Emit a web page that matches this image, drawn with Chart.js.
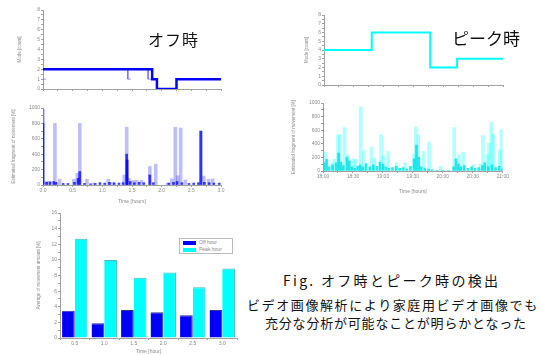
<!DOCTYPE html>
<html>
<head>
<meta charset="utf-8">
<script src="https://cdn.jsdelivr.net/npm/chart.js@4/dist/chart.umd.min.js"></script>
<style>
body { margin: 0; background: #fff; width: 540px; height: 355px; overflow: hidden; position: relative; }
.box { position: absolute; }
canvas { display: block; }
.jp { position: absolute; font-family: "Noto Sans CJK JP", sans-serif; color: #111; white-space: nowrap; line-height: 1; }
.legend { position: absolute; left: 179px; top: 238px; width: 52px; height: 14px; border: 1px solid #bbb; background: #fff;
  font-family: "Liberation Sans", sans-serif; font-size: 5px; color: #888; }
.legend div { height: 7px; line-height: 7px; padding-left: 3px; }
.legend span { display: inline-block; width: 13px; height: 4px; margin-right: 3px; vertical-align: middle; }
</style>
</head>
<body>
<div class="box" style="left:0;top:0"><canvas id="offMode" width="230" height="95"></canvas></div>
<div class="box" style="left:0;top:95px"><canvas id="offMove" width="230" height="110"></canvas></div>
<div class="box" style="left:280px;top:0"><canvas id="peakMode" width="230" height="95"></canvas></div>
<div class="box" style="left:280px;top:95px"><canvas id="peakMove" width="230" height="100"></canvas></div>
<div class="box" style="left:0;top:205px"><canvas id="average" width="245" height="150"></canvas></div>

<div class="legend">
  <div><span style="background:#0000ff"></span>Off hour</div>
  <div><span style="background:#00ffff"></span>Peak hour</div>
</div>

<div class="jp" style="left:148px;top:31px;font-size:16px;letter-spacing:1px">オフ時</div>
<div class="jp" style="left:452px;top:29px;font-size:17px">ピーク時</div>
<div class="jp" style="left:283px;top:273px;font-size:14px;letter-spacing:2.3px">Fig. オフ時とピーク時の検出</div>
<div class="jp" style="left:247px;top:298px;font-size:13px;letter-spacing:1.6px">ビデオ画像解析により家庭用ビデオ画像でも</div>
<div class="jp" style="left:265px;top:316px;font-size:13px;letter-spacing:0.8px">充分な分析が可能なことが明らかとなった</div>

<script>
// ---- data ----
// off hour: mode count (step line)
const offModeT = [0, 1.84, 1.92, 2.25, 3.0];
const offModeV = [2, 1, 0, 1, 1];
const offBlipT = [0, 1.43, 1.77];

// off hour: estimated movement (bars)
const offPeakT = [0.00, 0.05, 0.10, 0.20, 0.28, 0.52, 0.58, 0.62, 0.74, 0.85, 1.10, 1.16, 1.37, 1.41, 1.45, 1.52, 1.58, 1.66, 1.80, 1.90, 2.10, 2.17, 2.23, 2.27, 2.32, 2.40, 2.66, 2.71, 2.79, 2.86];
const offPeakV = [980, 45, 45, 800, 75, 75, 150, 800, 75, 25, 75, 30, 130, 750, 85, 60, 60, 60, 240, 270, 25, 80, 750, 120, 740, 65, 700, 115, 75, 80];
const offBaseT = [0.00, 0.06, 0.12, 0.18, 0.22, 0.34, 0.42, 0.53, 0.59, 0.62, 0.70, 0.80, 0.88, 0.96, 1.04, 1.12, 1.20, 1.28, 1.35, 1.41, 1.42, 1.47, 1.54, 1.62, 1.70, 1.80, 1.86, 2.12, 2.20, 2.26, 2.34, 2.46, 2.54, 2.62, 2.66, 2.72, 2.80, 2.88, 2.97];
const offBaseV = [800, 35, 40, 45, 35, 20, 20, 35, 85, 175, 20, 15, 20, 30, 25, 35, 30, 25, 30, 400, 325, 45, 30, 35, 30, 130, 30, 25, 35, 45, 30, 20, 25, 30, 700, 35, 30, 25, 25];

// peak hour: mode count (step line)
const peakModeT = [0, 0.80, 1.78, 2.23, 3.0];
const peakModeV = [4, 6, 2, 3, 3];

// peak hour: estimated movement (bars)
const peakPeakT = [0.04, 0.14, 0.19, 0.25, 0.28, 0.36, 0.41, 0.50, 0.54, 0.63, 0.68, 0.81, 0.86, 0.97, 1.01, 1.09, 1.23, 1.37, 1.52, 1.55, 1.59, 1.68, 1.77, 1.96, 2.19, 2.27, 2.34, 2.51, 2.63, 2.67, 2.74, 2.77, 2.81, 2.84, 2.95, 2.98];
const peakPeakV = [280, 120, 170, 525, 535, 640, 240, 175, 175, 940, 300, 350, 190, 535, 215, 290, 120, 120, 250, 650, 525, 290, 425, 70, 640, 240, 280, 95, 100, 520, 240, 410, 720, 535, 310, 610];
const peakBaseT = [0.02, 0.06, 0.10, 0.16, 0.22, 0.26, 0.30, 0.34, 0.40, 0.44, 0.48, 0.53, 0.58, 0.62, 0.66, 0.72, 0.78, 0.84, 0.90, 0.95, 1.00, 1.05, 1.10, 1.16, 1.22, 1.28, 1.34, 1.40, 1.46, 1.52, 1.56, 1.60, 1.64, 1.70, 1.76, 1.82, 1.90, 2.00, 2.10, 2.18, 2.22, 2.26, 2.30, 2.36, 2.42, 2.48, 2.54, 2.60, 2.66, 2.70, 2.76, 2.82, 2.88, 2.94, 2.99];
const peakBaseV = [120, 170, 60, 90, 120, 265, 130, 80, 200, 150, 60, 40, 70, 90, 60, 110, 60, 90, 70, 130, 100, 60, 40, 50, 70, 40, 50, 30, 70, 180, 380, 200, 60, 40, 30, 20, 10, 10, 10, 60, 180, 100, 60, 80, 40, 60, 40, 50, 80, 120, 60, 90, 50, 70, 30];
const peakClock = ['18:00', '18:30', '19:00', '19:30', '20:00', '20:30', '21:00'];

// average movement per half hour
const hourLabels = ['0.5', '1.0', '1.5', '2.0', '2.5', '3.0'];
const offAverage = [3.5, 1.9, 3.6, 3.3, 2.9, 3.6];
const peakAverage = [12.7, 10.0, 7.7, 8.4, 6.5, 8.9];

// ---- styling helpers ----
const axisColor = '#a0a0a0';
const labelColor = '#8a8a8a';
const smallFont = { size: 5, family: 'Liberation Sans' };

function pts(ts, vs) {
    return ts.map((t, i) => ({ x: t, y: vs[i] }));
}

function every(step, fmt) {
    return v => (Math.abs(v / step - Math.round(v / step)) < 1e-6 ? fmt(v) : '');
}

function axisBase() {
    return {
        grid: { display: true, drawOnChartArea: false, drawTicks: true, tickLength: 2, color: axisColor },
        border: { display: true, color: axisColor },
        ticks: { font: smallFont, color: labelColor, padding: 1, autoSkip: false, maxRotation: 0 }
    };
}

function xTime(opts) {
    const ax = axisBase();
    ax.type = 'linear';
    ax.min = 0;
    ax.max = 3;
    ax.offset = false;
    ax.grid.offset = false;
    ax.ticks.stepSize = 0.25;
    ax.ticks.display = opts.labels !== false;
    ax.ticks.callback = opts.callback || every(0.5, v => v.toFixed(1));
    if (opts.title) {
        ax.title = { display: true, text: opts.title, font: smallFont, color: labelColor, padding: 0 };
    }
    ax.afterFit = s => { s.height = opts.height; };
    return ax;
}

function yValue(opts) {
    const ax = axisBase();
    ax.min = opts.min;
    ax.max = opts.max;
    ax.ticks.stepSize = opts.step;
    ax.ticks.callback = every(opts.labelStep, opts.fmt || (v => String(v)));
    ax.title = { display: true, text: opts.title, font: { size: 4.5, family: 'Liberation Sans' }, color: labelColor, padding: 0 };
    ax.afterFit = s => { s.width = opts.width; };
    return ax;
}

const common = {
    responsive: false,
    animation: false,
    devicePixelRatio: 1,
    plugins: { legend: { display: false }, tooltip: { enabled: false } }
};

// ---- off hour mode ----
const blips = [];
offBlipT.forEach(t => {
    blips.push({ x: t, y: t > 0 ? 2 : 1 }, { x: t, y: 1 }, { x: t + 0.05, y: 1 }, { x: t + 0.05, y: null });
});

new Chart(document.getElementById('offMode'), {
    type: 'line',
    data: {
        datasets: [
            { data: pts(offModeT, offModeV), stepped: true, borderColor: '#0000ff', borderWidth: 2.5, pointRadius: 0 },
            { data: blips, borderColor: 'rgba(80,80,255,0.6)', borderWidth: 1, pointRadius: 0, spanGaps: false }
        ]
    },
    options: Object.assign({}, common, {
        layout: { padding: { left: 17, right: 9, top: 10, bottom: 0 } },
        scales: {
            x: xTime({ labels: false, height: 6 }),
            y: yValue({ min: 0, max: 8, step: 0.5, labelStep: 1, title: 'Mode [count]', width: 26 })
        }
    })
});

// ---- off hour movement ----
new Chart(document.getElementById('offMove'), {
    type: 'bar',
    data: {
        datasets: [
            { data: pts(offBaseT, offBaseV), backgroundColor: 'rgba(0,0,255,0.75)', barThickness: 2 },
            { data: pts(offPeakT, offPeakV), backgroundColor: 'rgba(40,40,255,0.3)', barThickness: 3 }
        ]
    },
    options: Object.assign({}, common, {
        datasets: { bar: { grouped: false } },
        layout: { padding: { left: 11, right: 9, top: 13, bottom: 0 } },
        scales: {
            x: xTime({ title: 'Time [hours]', height: 20 }),
            y: yValue({ min: 0, max: 1000, step: 100, labelStep: 200, title: 'Estimated fragment of movement [%]', width: 32 })
        }
    })
});

// ---- peak hour mode ----
new Chart(document.getElementById('peakMode'), {
    type: 'line',
    data: {
        datasets: [
            { data: pts(peakModeT, peakModeV), stepped: true, borderColor: '#00ffff', borderWidth: 2, pointRadius: 0 }
        ]
    },
    options: Object.assign({}, common, {
        layout: { padding: { left: 24, right: 7, top: 15, bottom: 0 } },
        scales: {
            x: xTime({ labels: false, height: 10 }),
            y: yValue({ min: 0, max: 8, step: 0.5, labelStep: 1, title: 'Mode [count]', width: 20 })
        }
    })
});

// ---- peak hour movement ----
new Chart(document.getElementById('peakMove'), {
    type: 'bar',
    data: {
        datasets: [
            { data: pts(peakBaseT, peakBaseV), backgroundColor: 'rgba(0,225,225,0.8)', barThickness: 2 },
            { data: pts(peakPeakT, peakPeakV), backgroundColor: 'rgba(0,255,255,0.3)', barThickness: 3 }
        ]
    },
    options: Object.assign({}, common, {
        datasets: { bar: { grouped: false } },
        layout: { padding: { left: 11, right: 7, top: 8, bottom: 0 } },
        scales: {
            x: xTime({ title: 'Time [hours]', height: 24, callback: (v, i) => (i % 2 === 0 ? peakClock[i / 2] : '') }),
            y: yValue({ min: 0, max: 1000, step: 100, labelStep: 200, title: 'Estimated fragment of movement [%]', width: 32 })
        }
    })
});

// ---- average movement ----
const avgX = axisBase();
avgX.type = 'category';
avgX.title = { display: true, text: 'Time [hour]', font: smallFont, color: labelColor, padding: 0 };
avgX.afterFit = s => { s.height = 17; };

new Chart(document.getElementById('average'), {
    type: 'bar',
    data: {
        labels: hourLabels,
        datasets: [
            { label: 'Off hour', data: offAverage, backgroundColor: '#0000f8', borderColor: '#303090', borderWidth: { top: 1, right: 1 } },
            { label: 'Peak hour', data: peakAverage, backgroundColor: '#00ffff', borderColor: '#40b8b8', borderWidth: { top: 1, right: 1 } }
        ]
    },
    options: Object.assign({}, common, {
        datasets: { bar: { categoryPercentage: 0.86, barPercentage: 1 } },
        layout: { padding: { left: 36, right: 8, top: 8, bottom: 0 } },
        scales: {
            x: avgX,
            y: yValue({ min: 0, max: 16, step: 1, labelStep: 2, title: 'Average of movement amount [%]', width: 24 })
        }
    })
});
</script>
</body>
</html>
